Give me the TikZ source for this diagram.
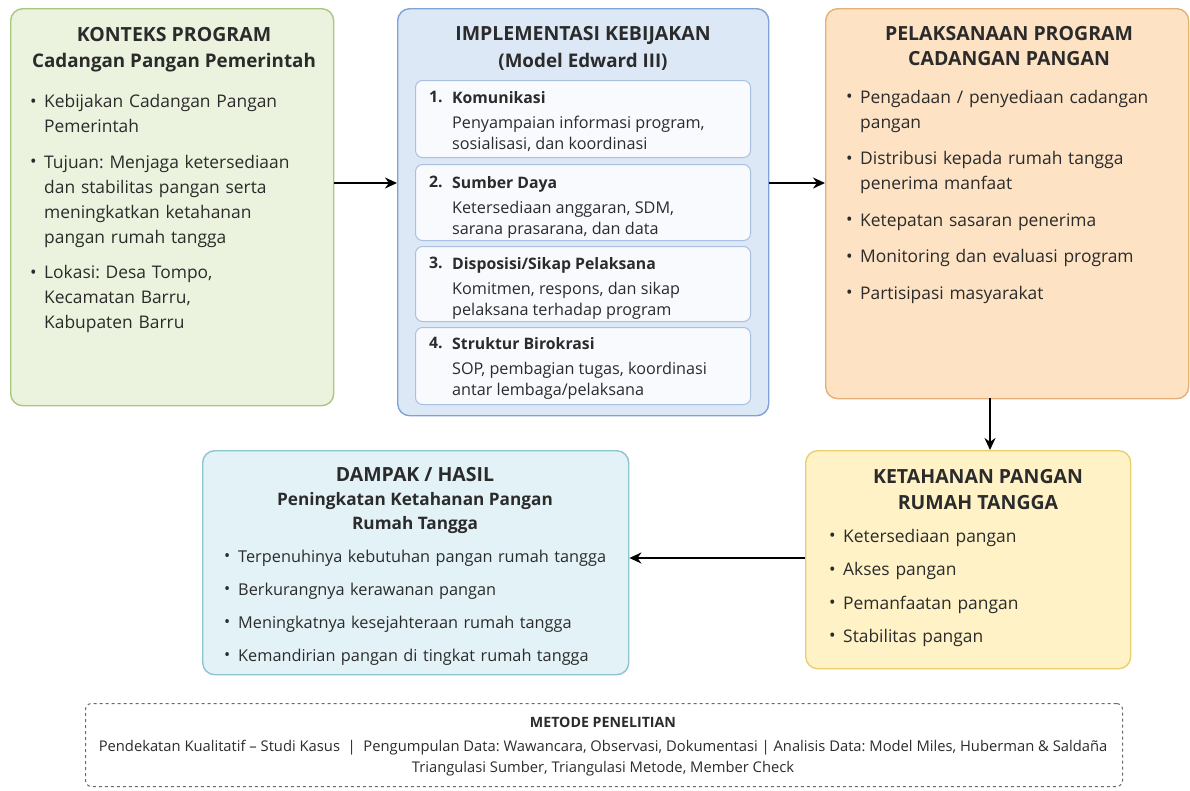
\documentclass[tikz,border=0pt]{standalone}
\usepackage{fontspec}
\setmainfont{Open Sans}
\usetikzlibrary{arrows.meta}
\definecolor{txt}{HTML}{2B2B2B}
\definecolor{greenfill}{HTML}{EBF3DE}
\definecolor{greenline}{HTML}{A8C880}
\definecolor{bluefill}{HTML}{DDE8F6}
\definecolor{blueline}{HTML}{7FA3D6}
\definecolor{innerfill}{HTML}{F8FAFE}
\definecolor{innerline}{HTML}{A9C0E3}
\definecolor{orangefill}{HTML}{FDE2C4}
\definecolor{orangeline}{HTML}{E6AE78}
\definecolor{yellowfill}{HTML}{FFF2C6}
\definecolor{yellowline}{HTML}{EACF70}
\definecolor{cyanfill}{HTML}{E2F2F7}
\definecolor{cyanline}{HTML}{8DC3D3}
\definecolor{dashline}{HTML}{6A6A6A}
\newcommand{\bi}{\par\hangindent=14pt\hangafter=1\noindent\makebox[14pt][l]{\raisebox{0.5pt}{•}}}
\frenchspacing
\tikzset{
  outerbox/.style={draw, rounded corners=12pt, line width=1.4pt, anchor=north west, inner sep=0pt},
  innerbox/.style={draw=innerline, fill=innerfill, rounded corners=7pt, line width=1pt, anchor=north west, inner sep=0pt},
  ttl/.style={font=\fontsize{19.5}{26.5}\selectfont\bfseries, text=txt, align=center, inner sep=0pt},
  lst/.style={font=\fontsize{17.4}{25}\selectfont, text=txt, align=left, anchor=north west, inner sep=0pt},
  sub/.style={font=\fontsize{16.2}{21}\selectfont, text=txt, align=left, anchor=north west, inner sep=0pt},
  arr/.style={-{Stealth[length=12pt,width=11pt]}, line width=2pt, black}
}
\begin{document}
\begin{tikzpicture}[x=1pt,y=-1pt]
\useasboundingbox (0,0) rectangle (1190,790);
% outer boxes
\node[outerbox, draw=greenline, fill=greenfill, minimum width=323pt, minimum height=397pt] (ctx) at (10,8) {};
\node[outerbox, draw=blueline, fill=bluefill, minimum width=371pt, minimum height=407pt] (impl) at (397,8) {};
\node[outerbox, draw=orangeline, fill=orangefill, minimum width=363pt, minimum height=390pt] (pel) at (825,8) {};
\node[outerbox, draw=yellowline, fill=yellowfill, minimum width=325pt, minimum height=218pt] (ket) at (805,450) {};
\node[outerbox, draw=cyanline, fill=cyanfill, minimum width=426pt, minimum height=224pt] (dam) at (202,450) {};
\node[draw=dashline, dashed, rounded corners=6pt, line width=1pt, anchor=north west, inner sep=0pt, minimum width=1037pt, minimum height=83pt] (met) at (85,703) {};

% box 1
\node[ttl] (ctxT) at (174,49.5) {KONTEKS PROGRAM\\{\fontsize{18.8}{26.5}\selectfont Cadangan Pangan Pemerintah}};
\node[lst, text width=295pt] (ctxL) at (30,72.2) {\setlength{\parskip}{10.5pt}%
\bi Kebijakan Cadangan Pangan\newline Pemerintah
\bi Tujuan: Menjaga ketersediaan\newline dan stabilitas pangan serta\newline meningkatkan ketahanan\newline pangan rumah tangga
\bi Lokasi: Desa Tompo,\newline Kecamatan Barru,\newline Kabupaten Barru\par};

% box 2
\node[ttl] (implT) at (583,48.5) {IMPLEMENTASI KEBIJAKAN\\{\fontsize{18.8}{26.5}\selectfont (Model Edward III)}};
\node[innerbox, minimum width=335pt, minimum height=77pt] (k1) at (415,80) {};
\node[innerbox, minimum width=335pt, minimum height=76pt] (k2) at (415,164) {};
\node[innerbox, minimum width=335pt, minimum height=75pt] (k3) at (415,246) {};
\node[innerbox, minimum width=335pt, minimum height=77pt] (k4) at (415,327) {};
\node[sub, font=\fontsize{15.8}{21}\selectfont\bfseries] (k1n) at (429,91) {1.};
\node[sub] (k1t) at (452,91) {{\fontsize{15.8}{21}\selectfont\bfseries Komunikasi}\\[4pt]Penyampaian informasi program,\\sosialisasi, dan koordinasi};
\node[sub, font=\fontsize{15.8}{21}\selectfont\bfseries] (k2n) at (429,176) {2.};
\node[sub] (k2t) at (452,176) {{\fontsize{15.8}{21}\selectfont\bfseries Sumber Daya}\\[4pt]Ketersediaan anggaran, SDM,\\sarana prasarana, dan data};
\node[sub, font=\fontsize{15.8}{21}\selectfont\bfseries] (k3n) at (429,257) {3.};
\node[sub] (k3t) at (452,257) {{\fontsize{15.8}{21}\selectfont\bfseries Disposisi/Sikap Pelaksana}\\[4pt]Komitmen, respons, dan sikap\\pelaksana terhadap program};
\node[sub, font=\fontsize{15.8}{21}\selectfont\bfseries] (k4n) at (429,337) {4.};
\node[sub] (k4t) at (452,337) {{\fontsize{15.8}{21}\selectfont\bfseries Struktur Birokrasi}\\[4pt]SOP, pembagian tugas, koordinasi\\antar lembaga/pelaksana};

% box 3
\node[ttl, font=\fontsize{19.5}{25}\selectfont\bfseries] (pelT) at (1009,46) {PELAKSANAAN PROGRAM\\CADANGAN PANGAN};
\node[lst, text width=330pt] (pelL) at (846,66.7) {\setlength{\parskip}{11.5pt}%
\bi Pengadaan / penyediaan cadangan\newline pangan
\bi Distribusi kepada rumah tangga\newline penerima manfaat
\bi Ketepatan sasaran penerima
\bi Monitoring dan evaluasi program
\bi Partisipasi masyarakat\par};

% box 4
\node[ttl, font=\fontsize{19.5}{26}\selectfont\bfseries] (ketT) at (978,489.5) {KETAHANAN PANGAN\\RUMAH TANGGA};
\node[lst, text width=290pt] (ketL) at (829,508.9) {\setlength{\parskip}{8.3pt}%
\bi Ketersediaan pangan
\bi Akses pangan
\bi Pemanfaatan pangan
\bi Stabilitas pangan\par};

% box 5
\node[ttl, font=\fontsize{17.2}{24}\selectfont\bfseries] (damT) at (415,500.5) {{\fontsize{19.5}{24}\selectfont DAMPAK / HASIL}\\Peningkatan Ketahanan Pangan\\Rumah Tangga};
\node[lst, font=\fontsize{16.3}{25}\selectfont, text width=400pt] (damL) at (224,529.1) {\setlength{\parskip}{8pt}%
\bi Terpenuhinya kebutuhan pangan rumah tangga
\bi Berkurangnya kerawanan pangan
\bi Meningkatnya kesejahteraan rumah tangga
\bi Kemandirian pangan di tingkat rumah tangga\par};

% box 6
\node[font=\fontsize{14.2}{16}\selectfont\bfseries, text=txt, inner sep=0pt] (metT) at (603,722) {METODE PENELITIAN};
\node[font=\fontsize{14.75}{21}\selectfont, text=txt, align=center, inner sep=0pt] (metL) at (603,758.5) {Pendekatan Kualitatif -- Studi Kasus \ | \ Pengumpulan Data: Wawancara, Observasi, Dokumentasi | Analisis Data: Model Miles, Huberman \& Saldaña\\Triangulasi Sumber, Triangulasi Metode, Member Check};

% arrows
\draw[arr] (ctx.east |- 0,183) -- (impl.west |- 0,183);
\draw[arr] (impl.east |- 0,183) -- (pel.west |- 0,183);
\draw[arr] (990,398) coordinate (p1) -- (p1 |- ket.north);
\draw[arr] (ket.west |- 0,558) -- (dam.east |- 0,558);
\end{tikzpicture}
\end{document}
